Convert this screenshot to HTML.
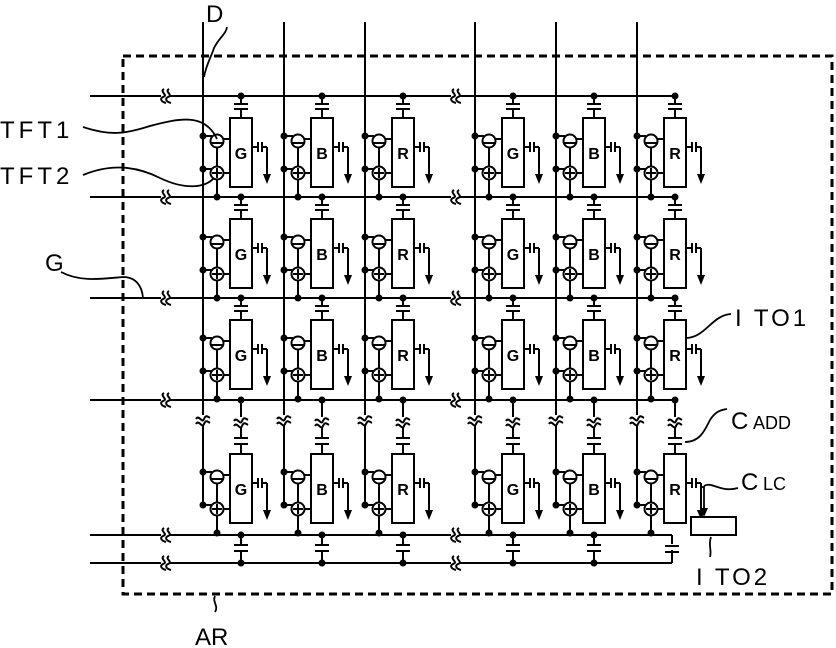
<!DOCTYPE html>
<html><head><meta charset="utf-8"><style>
html,body{margin:0;padding:0;background:#fff;}
svg{display:block;}
text{font-family:"Liberation Sans",sans-serif;fill:#000;}
</style></head><body>
<svg width="836" height="648" viewBox="0 0 836 648" xmlns="http://www.w3.org/2000/svg">
<defs>
<g id="brk" fill="none" stroke="#000" stroke-width="2">
 <rect x="-4" y="-6" width="8" height="12" fill="#fff" stroke="none"/>
 <path d="M-1,-7 C-6,-4 4,-1 -2,1 C-6,3 -3,6 1,7"/>
 <path d="M4,-7 C-1,-4 9,-1 3,1 C-1,3 2,6 6,7"/>
</g>
<g id="vbrk" fill="none" stroke="#000" stroke-width="2">
 <rect x="-7" y="-5" width="14" height="10" fill="#fff" stroke="none"/>
 <path d="M-7,-1 C-4,-6 -1,4 1,-1 C3,-6 5,-3 7,-2"/>
 <path d="M-7,4 C-4,-1 -1,9 1,4 C3,-1 5,2 7,3"/>
</g>
<g id="tft" stroke="#000" stroke-width="2" fill="none">
 <line x1="0" y1="40" x2="9" y2="40"/>
 <line x1="0" y1="73" x2="9" y2="73"/>
 <circle cx="0" cy="40" r="2.5" fill="#000"/>
 <circle cx="0" cy="73" r="2.5" fill="#000"/>
 <circle cx="14" cy="45" r="6.5" fill="#fff"/>
 <line x1="8" y1="47" x2="20" y2="47"/>
 <circle cx="14" cy="77" r="6.5" fill="#fff"/>
 <line x1="9" y1="77" x2="19" y2="77"/><line x1="14" y1="72" x2="14" y2="82"/>
 <line x1="14" y1="52" x2="14" y2="70"/>
 <line x1="14" y1="84" x2="14" y2="101"/>
 <circle cx="14" cy="101" r="2.5" fill="#000"/>
 <line x1="20" y1="43" x2="27" y2="43"/>
 <line x1="20" y1="77" x2="27" y2="77"/>
 <rect x="27" y="22" width="22" height="69" fill="#fff"/>
 <line x1="49" y1="51" x2="55" y2="51"/>
 <line x1="55" y1="46" x2="55" y2="56"/>
 <line x1="59" y1="46" x2="59" y2="56"/>
 <line x1="59" y1="51" x2="64" y2="51"/>
 <line x1="64" y1="51" x2="64" y2="80"/>
 <path d="M60,78 L68,78 L64,88 Z" fill="#000" stroke="none"/>
</g>
<g id="cap" stroke="#000" stroke-width="2" fill="none">
 <circle cx="38" cy="0" r="2.5" fill="#000"/>
 <line x1="38" y1="0" x2="38" y2="8"/>
 <line x1="31" y1="8" x2="45" y2="8"/>
 <line x1="31" y1="13" x2="45" y2="13"/>
 <line x1="38" y1="13" x2="38" y2="22"/>
</g>
<g id="cell"><use href="#cap"/><use href="#tft"/></g>
<g id="cell4" stroke="#000" stroke-width="2" fill="none">
 <circle cx="38" cy="0" r="2.5" fill="#000"/>
 <line x1="38" y1="0" x2="38" y2="38"/>
 <line x1="31" y1="38" x2="45" y2="38"/>
 <line x1="31" y1="44" x2="45" y2="44"/>
 <line x1="38" y1="44" x2="38" y2="54"/>
 <line x1="0" y1="0" x2="0" y2="105"/>
 <line x1="0" y1="105" x2="9" y2="105"/>
 <use href="#vbrk" x="0" y="20"/>
 <use href="#vbrk" x="38" y="22"/>
 <g transform="translate(0,32)"><use href="#tft"/></g>
</g>
</defs>

<rect x="123" y="56" width="709" height="538" fill="none" stroke="#000" stroke-width="3" stroke-dasharray="8,5"/>

<g stroke="#000" stroke-width="2">
<line x1="203" y1="22" x2="203" y2="400"/>
<line x1="284" y1="22" x2="284" y2="400"/>
<line x1="365" y1="22" x2="365" y2="400"/>
<line x1="475" y1="22" x2="475" y2="400"/>
<line x1="556" y1="22" x2="556" y2="400"/>
<line x1="637" y1="22" x2="637" y2="400"/>
<line x1="90" y1="96" x2="676" y2="96"/>
<line x1="90" y1="197" x2="676" y2="197"/>
<line x1="90" y1="298" x2="676" y2="298"/>
<line x1="90" y1="400" x2="676" y2="400"/>
<line x1="90" y1="535" x2="672" y2="535"/>
<line x1="90" y1="563" x2="672" y2="563"/>
<line x1="672" y1="535" x2="672" y2="563"/>
</g>
<rect x="664" y="544" width="16" height="6" fill="#fff"/>
<g stroke="#000" stroke-width="2"><line x1="665" y1="546" x2="679" y2="546"/><line x1="665" y1="552" x2="679" y2="552"/></g>

<use href="#brk" x="165" y="96"/><use href="#brk" x="455" y="96"/>
<use href="#brk" x="165" y="197"/><use href="#brk" x="455" y="197"/>
<use href="#brk" x="165" y="298"/><use href="#brk" x="455" y="298"/>
<use href="#brk" x="165" y="400"/><use href="#brk" x="455" y="400"/>
<use href="#brk" x="165" y="535"/><use href="#brk" x="455" y="535"/>
<use href="#brk" x="165" y="563"/><use href="#brk" x="455" y="563"/>

<g>
<use href="#cell" x="203" y="96"/><use href="#cell" x="284" y="96"/><use href="#cell" x="365" y="96"/>
<use href="#cell" x="475" y="96"/><use href="#cell" x="556" y="96"/><use href="#cell" x="637" y="96"/>
<use href="#cell" x="203" y="197"/><use href="#cell" x="284" y="197"/><use href="#cell" x="365" y="197"/>
<use href="#cell" x="475" y="197"/><use href="#cell" x="556" y="197"/><use href="#cell" x="637" y="197"/>
<use href="#cell" x="203" y="298"/><use href="#cell" x="284" y="298"/><use href="#cell" x="365" y="298"/>
<use href="#cell" x="475" y="298"/><use href="#cell" x="556" y="298"/><use href="#cell" x="637" y="298"/>
<use href="#cell4" x="203" y="400"/><use href="#cell4" x="284" y="400"/><use href="#cell4" x="365" y="400"/>
<use href="#cell4" x="475" y="400"/><use href="#cell4" x="556" y="400"/><use href="#cell4" x="637" y="400"/>
</g>
<g stroke="#000" stroke-width="2" fill="none">
<g id="bc"><circle cx="241" cy="535" r="2.5" fill="#000"/><line x1="241" y1="535" x2="241" y2="563"/><rect x="233" y="545" width="16" height="6" fill="#fff" stroke="none"/><line x1="234" y1="545" x2="248" y2="545"/><line x1="234" y1="551" x2="248" y2="551"/><circle cx="241" cy="563" r="2.5" fill="#000"/></g>
<use href="#bc" x="81"/><use href="#bc" x="162"/><use href="#bc" x="272"/><use href="#bc" x="353"/>
</g>

<g font-size="16" font-weight="bold" text-anchor="middle">
<text x="241" y="159">G</text><text x="322" y="159">B</text><text x="403" y="159">R</text>
<text x="513" y="159">G</text><text x="594" y="159">B</text><text x="675" y="159">R</text>
<text x="241" y="260">G</text><text x="322" y="260">B</text><text x="403" y="260">R</text>
<text x="513" y="260">G</text><text x="594" y="260">B</text><text x="675" y="260">R</text>
<text x="241" y="361">G</text><text x="322" y="361">B</text><text x="403" y="361">R</text>
<text x="513" y="361">G</text><text x="594" y="361">B</text><text x="675" y="361">R</text>
<text x="241" y="495">G</text><text x="322" y="495">B</text><text x="403" y="495">R</text>
<text x="513" y="495">G</text><text x="594" y="495">B</text><text x="675" y="495">R</text>
</g>

<rect x="691" y="517" width="45" height="18" fill="#fff" stroke="#000" stroke-width="2"/>

<g stroke="#000" stroke-width="1.8" fill="none">
<path d="M204,77 C206,65 212,55 214,48 C219,38 226,34 227,27"/>
<path d="M83,127 C110,136 125,134 150,126 C180,118 205,113 217,139"/>
<path d="M83,175 C105,166 130,163 160,178 C185,190 205,188 214,178"/>
<path d="M61,272 C80,282 100,279 123,277 C135,277 142,285 143,298"/>
<path d="M686,338 C705,338 712,315 731,314"/>
<path d="M685,442 C700,442 705,430 710,420 C715,412 720,410 727,409"/>
<path d="M704,486 C712,481 720,493 738,488"/>
<path d="M711,537 C708,545 712,550 710,557"/>
<path d="M215,596 C212,602 219,606 215,612"/>
<path d="M701,487 L704,487 L704,511"/>
</g>
<path d="M700,508 L708,508 L704,517 Z" fill="#000"/>

<g font-size="24">
<text x="206" y="22">D</text>
<text x="0" y="138" letter-spacing="4">TFT1</text>
<text x="0" y="184" letter-spacing="4">TFT2</text>
<text x="45" y="271">G</text>
<text x="735" y="326" letter-spacing="3">I TO1</text>
<text x="731" y="429">C</text><text x="753" y="429" font-size="18">ADD</text>
<text x="741" y="490">C</text><text x="763" y="490" font-size="18">LC</text>
<text x="696" y="585" letter-spacing="3">I TO2</text>
<text x="195" y="645">AR</text>
</g>
</svg>
</body></html>
